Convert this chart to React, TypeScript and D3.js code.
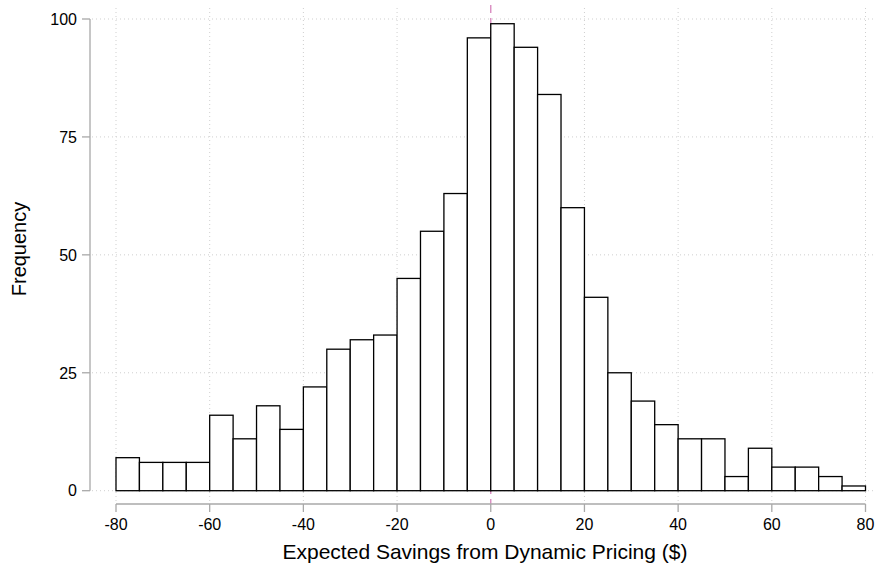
import React from "react";
import * as d3 from "d3";

const binStarts = [-80,-75,-70,-65,-60,-55,-50,-45,-40,-35,-30,-25,-20,-15,-10,-5,0,5,10,15,20,25,30,35,40,45,50,55,60,65,70,75];
const counts = [7,6,6,6,16,11,18,13,22,30,32,33,45,55,63,96,99,94,84,60,41,25,19,14,11,11,3,9,5,5,3,1];
const binWidth = 5;
const xTicks = [-80,-60,-40,-20,0,20,40,60,80];
const yTicks = [0,25,50,75,100];

export default function App() {
  const W = 878, H = 569;
  const x = d3.scaleLinear().domain([-80, 80]).range([116, 865.5]);
  const y = d3.scaleLinear().domain([0, 100]).range([490.7, 19]);
  const font = "'Liberation Sans', Arial, Helvetica, sans-serif";
  const gridColor = "#cfcfcf";
  const axisColor = "#a8a8a8";
  return (
    <svg width={W} height={H} style={{ position: "absolute", left: 0, top: 0, background: "#fff" }} fontFamily={font}>
      {/* horizontal grid */}
      {yTicks.map((t) => (
        <line key={"hg" + t} x1={92} x2={876} y1={y(t)} y2={y(t)} stroke={gridColor} strokeWidth={1} strokeDasharray="1,3" />
      ))}
      {/* vertical grid */}
      {xTicks.filter((t) => t !== 0).map((t) => (
        <line key={"vg" + t} x1={x(t)} x2={x(t)} y1={8} y2={504} stroke={gridColor} strokeWidth={1} strokeDasharray="1,3" />
      ))}
      {/* zero reference line */}
      <line x1={x(0)} x2={x(0)} y1={5} y2={504} stroke="#d98cc0" strokeWidth={1.4} strokeDasharray="8,5" />
      {/* bars */}
      {binStarts.map((b, i) => (
        <rect key={"b" + i} x={x(b)} y={y(counts[i])} width={x(b + binWidth) - x(b)} height={y(0) - y(counts[i])}
          fill="#fff" stroke="#000" strokeWidth={1.3} />
      ))}
      {/* y axis */}
      <line x1={90} x2={90} y1={y(100)} y2={y(0)} stroke={axisColor} strokeWidth={1.3} />
      {yTicks.map((t) => (
        <g key={"yt" + t}>
          <line x1={82} x2={90} y1={y(t)} y2={y(t)} stroke={axisColor} strokeWidth={1.3} />
          <text x={77} y={y(t)} dy="0.36em" textAnchor="end" fontSize={16} fill="#000">{t}</text>
        </g>
      ))}
      {/* x axis */}
      <line x1={x(-80)} x2={x(80)} y1={504} y2={504} stroke={axisColor} strokeWidth={1.3} />
      {xTicks.map((t) => (
        <g key={"xt" + t}>
          <line x1={x(t)} x2={x(t)} y1={504} y2={512} stroke={axisColor} strokeWidth={1.3} />
          <text x={x(t)} y={530} textAnchor="middle" fontSize={16} fill="#000">{t}</text>
        </g>
      ))}
      <text x={485} y={559} textAnchor="middle" fontSize={21} fill="#000">Expected Savings from Dynamic Pricing ($)</text>
      <text transform={`translate(26,249) rotate(-90)`} textAnchor="middle" fontSize={20} fill="#000">Frequency</text>
    </svg>
  );
}
